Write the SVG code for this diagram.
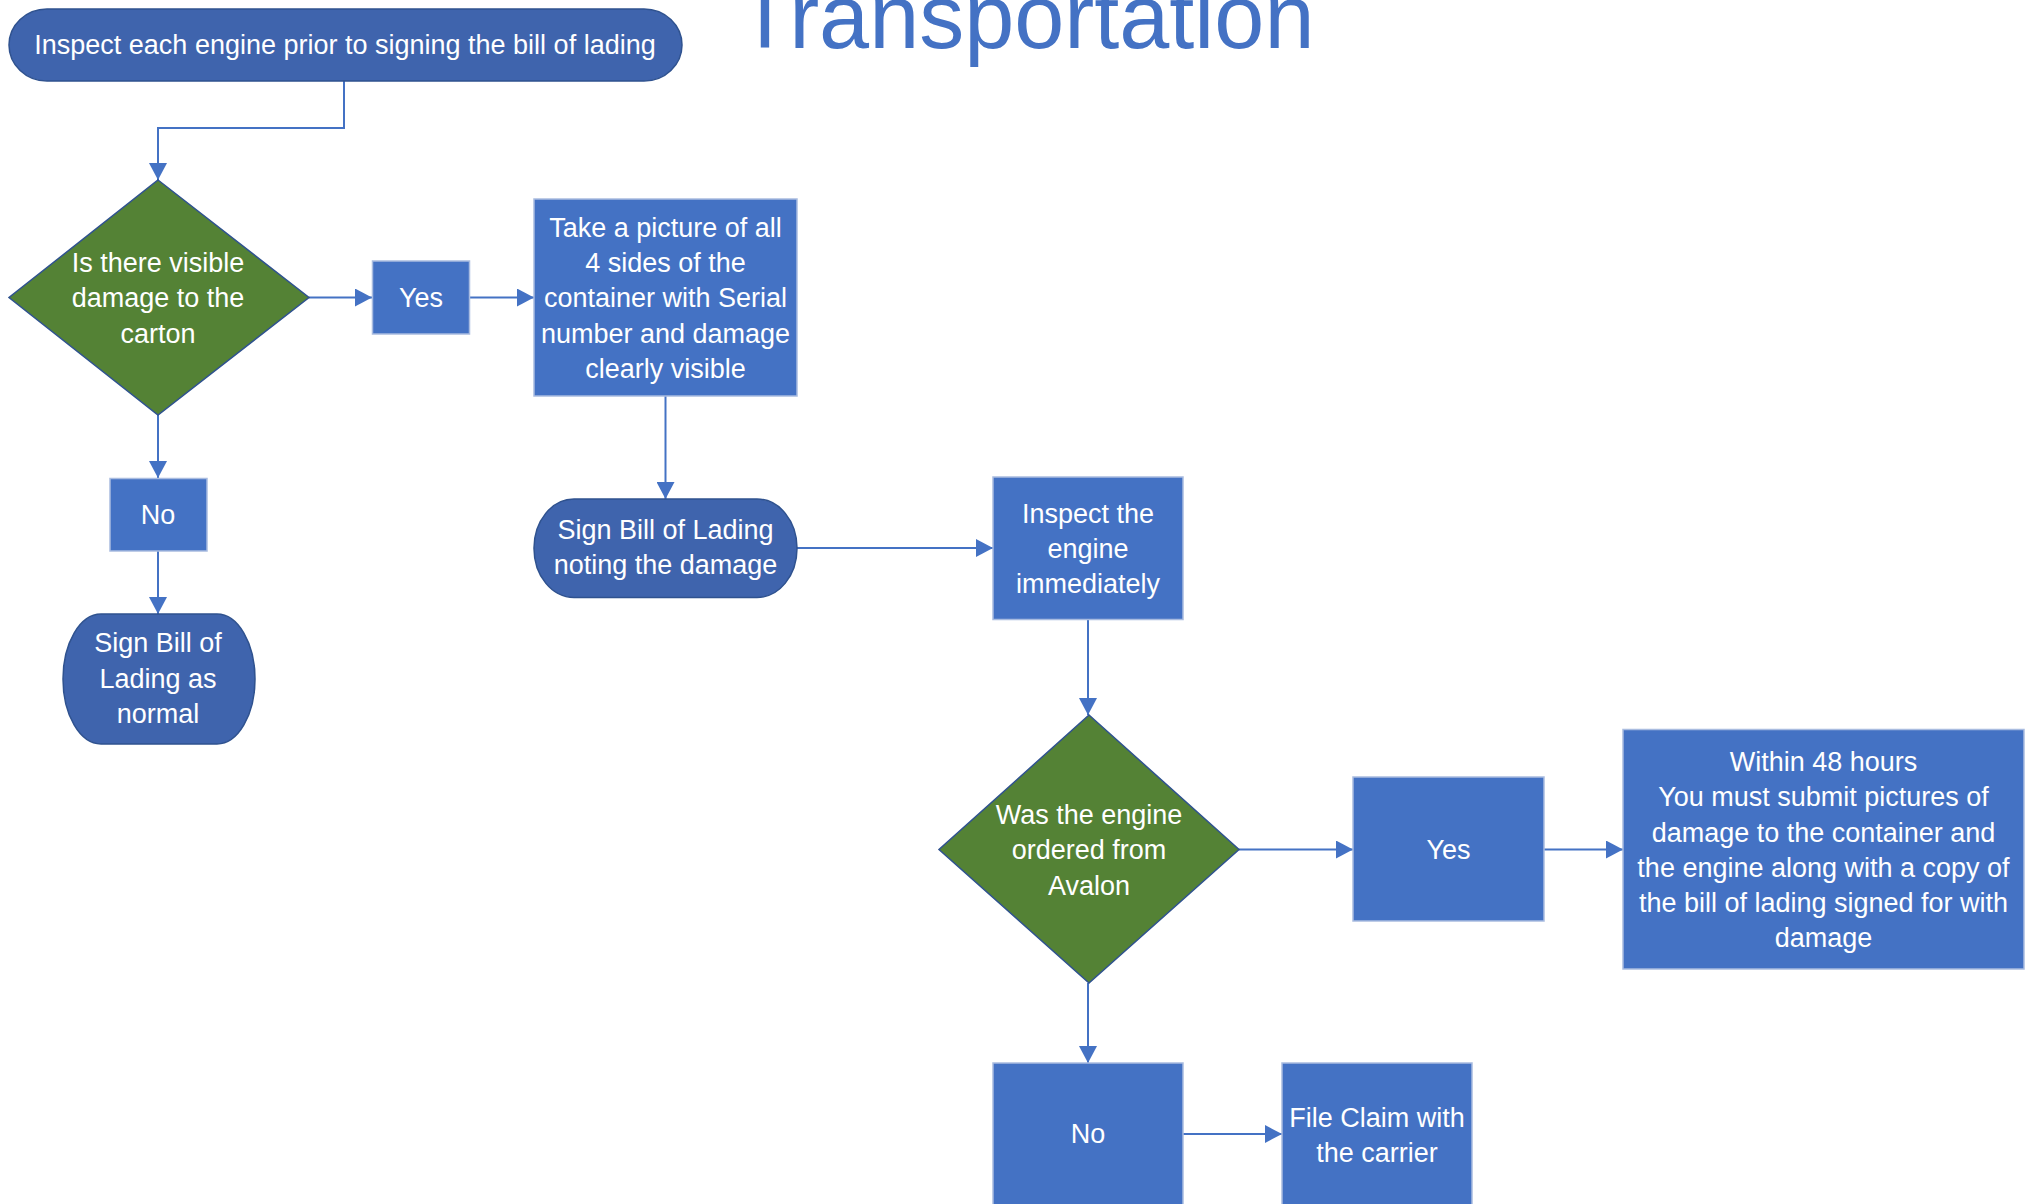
<svg xmlns="http://www.w3.org/2000/svg" width="2028" height="1204" viewBox="0 0 2028 1204">
<style>
  .term { fill: #3F64AD; stroke: #2F528F; stroke-width: 1.5; }
  .proc { fill: #4472C4; stroke: #A9BCE0; stroke-width: 1.5; }
  .dec { fill: #548235; stroke: #2F528F; stroke-width: 1.5; }
  .t { font-family: "Liberation Sans", Arial, sans-serif; font-size: 27px; fill: #FFFFFF; text-anchor: middle; }
  .title { font-family: "Liberation Sans", Arial, sans-serif; font-size: 90px; fill: #4472C4; text-anchor: middle; }
  .conn { fill: none; stroke: #4472C4; stroke-width: 2; marker-end: url(#arrow); }
</style>
<defs>
  <marker id="arrow" markerUnits="userSpaceOnUse" markerWidth="18" markerHeight="18" refX="17" refY="9" orient="auto">
    <path d="M0,0 L17,9 L0,18 Z" fill="#4472C4"/>
  </marker>
</defs>
<rect width="2028" height="1204" fill="#FFFFFF"/>
<g id="title">
  <text class="title" x="1026" y="48">Transportation</text>
</g>
<g id="connectors">
  <path class="conn" d="M344,81 V128 H158 V180"/>
  <path class="conn" d="M309,297.5 H372"/>
  <path class="conn" d="M469.5,297.5 H534"/>
  <path class="conn" d="M158,415 V478"/>
  <path class="conn" d="M158,551 V614"/>
  <path class="conn" d="M665.5,396 V499"/>
  <path class="conn" d="M797,548 H993"/>
  <path class="conn" d="M1088,619.5 V715"/>
  <path class="conn" d="M1239,849.5 H1353"/>
  <path class="conn" d="M1544,849.5 H1623"/>
  <path class="conn" d="M1088,983 V1063"/>
  <path class="conn" d="M1183,1134 H1282"/>
</g>
<g id="start">
  <rect class="term" x="9" y="9" width="673" height="72" rx="38" ry="36"/>
  <text class="t" x="345" y="54">Inspect each engine prior to signing the bill of lading</text>
</g>
<g id="decision1">
  <polygon class="dec" points="158,180 309,297.5 158,415 9,297.5"/>
  <text class="t" x="158" y="271.5">Is there visible</text>
  <text class="t" x="158" y="306.5">damage to the</text>
  <text class="t" x="158" y="342.5">carton</text>
</g>
<g id="yes1">
  <rect class="proc" x="372.5" y="261" width="97" height="73"/>
  <text class="t" x="421" y="306.5">Yes</text>
</g>
<g id="picture">
  <rect class="proc" x="534" y="199" width="263" height="197"/>
  <text class="t" x="665.5" y="236.5">Take a picture of all</text>
  <text class="t" x="665.5" y="271.5">4 sides of the</text>
  <text class="t" x="665.5" y="306.5">container with Serial</text>
  <text class="t" x="665.5" y="342.5">number and damage</text>
  <text class="t" x="665.5" y="377.5">clearly visible</text>
</g>
<g id="no1">
  <rect class="proc" x="110" y="478.5" width="97" height="72.5"/>
  <text class="t" x="158" y="524">No</text>
</g>
<g id="signNormal">
  <rect class="term" x="63" y="614" width="192" height="130" rx="38" ry="65"/>
  <text class="t" x="158" y="652">Sign Bill of</text>
  <text class="t" x="158" y="688">Lading as</text>
  <text class="t" x="158" y="723">normal</text>
</g>
<g id="signNoting">
  <rect class="term" x="534" y="499" width="263" height="98.5" rx="40" ry="49"/>
  <text class="t" x="665.5" y="539">Sign Bill of Lading</text>
  <text class="t" x="665.5" y="574">noting the damage</text>
</g>
<g id="inspectEngine">
  <rect class="proc" x="993" y="477" width="190" height="142.5"/>
  <text class="t" x="1088" y="522.5">Inspect the</text>
  <text class="t" x="1088" y="557.5">engine</text>
  <text class="t" x="1088" y="592.5">immediately</text>
</g>
<g id="decision2">
  <polygon class="dec" points="1089,715 1239,849.5 1089,983 939,849.5"/>
  <text class="t" x="1089" y="824">Was the engine</text>
  <text class="t" x="1089" y="859">ordered from</text>
  <text class="t" x="1089" y="895">Avalon</text>
</g>
<g id="yes2">
  <rect class="proc" x="1353" y="777" width="191" height="144"/>
  <text class="t" x="1448.5" y="859">Yes</text>
</g>
<g id="within48">
  <rect class="proc" x="1623" y="729.5" width="401" height="239.5"/>
  <text class="t" x="1823.5" y="771">Within 48 hours</text>
  <text class="t" x="1823.5" y="806">You must submit pictures of</text>
  <text class="t" x="1823.5" y="842">damage to the container and</text>
  <text class="t" x="1823.5" y="877">the engine along with a copy of</text>
  <text class="t" x="1823.5" y="912">the bill of lading signed for with</text>
  <text class="t" x="1823.5" y="947">damage</text>
</g>
<g id="no2">
  <rect class="proc" x="993" y="1063" width="190" height="143"/>
  <text class="t" x="1088" y="1143">No</text>
</g>
<g id="fileClaim">
  <rect class="proc" x="1282" y="1063" width="190" height="143"/>
  <text class="t" x="1377" y="1126.5">File Claim with</text>
  <text class="t" x="1377" y="1161.5">the carrier</text>
</g>
</svg>
